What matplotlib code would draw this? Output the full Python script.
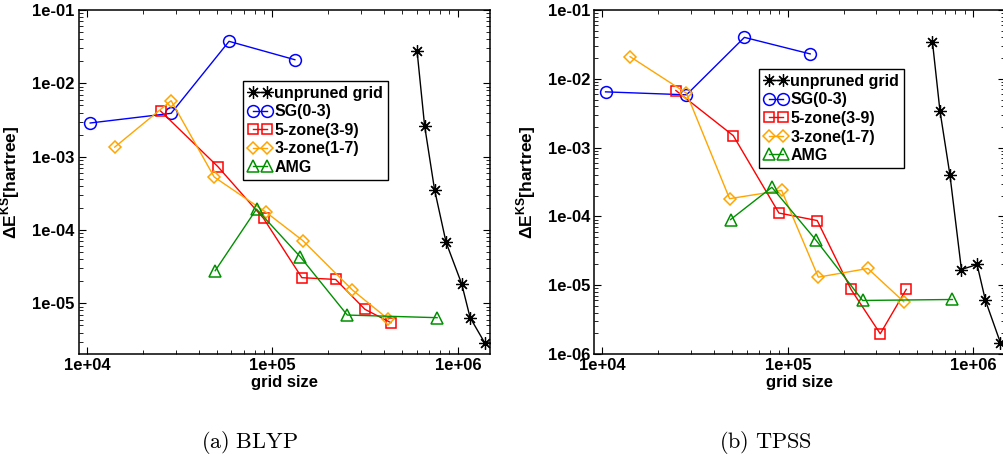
import matplotlib
matplotlib.use("Agg")
import matplotlib.pyplot as plt
from matplotlib.ticker import FuncFormatter, LogLocator

# grid sizes (shared by both functionals)
grid_unpruned = [6.02e5, 6.61e5, 7.48e5, 8.63e5, 1.048e6, 1.163e6, 1.40e6]
grid_sg = [1.04e4, 2.84e4, 5.83e4, 1.32e5]
grid_5zone = [2.49e4, 5.08e4, 8.95e4, 1.44e5, 2.19e5, 3.15e5, 4.35e5]
grid_3zone = [1.41e4, 2.84e4, 4.85e4, 9.25e4, 1.46e5, 2.70e5, 4.22e5]
grid_amg = [4.91e4, 8.2e4, 1.41e5, 2.53e5, 7.72e5]

# errors, BLYP
blyp_unpruned = [2.76e-2, 2.65e-3, 3.55e-4, 6.8e-5, 1.84e-5, 6.4e-6, 2.85e-6]
blyp_sg = [2.88e-3, 3.9e-3, 3.74e-2, 2.1e-2]
blyp_5zone = [4.2e-3, 7.3e-4, 1.44e-4, 2.24e-5, 2.12e-5, 8.3e-6, 5.45e-6]
blyp_3zone = [1.35e-3, 5.8e-3, 5.28e-4, 1.74e-4, 7.15e-5, 1.52e-5, 6.05e-6]
blyp_amg = [2.79e-5, 1.93e-4, 4.33e-5, 6.93e-6, 6.38e-6]

# errors, TPSS
tpss_unpruned = [3.47e-2, 3.43e-3, 4.03e-4, 1.69e-5, 2.0e-5, 6.0e-6, 1.46e-6]
tpss_sg = [6.46e-3, 5.85e-3, 4.0e-2, 2.3e-2]
tpss_5zone = [6.76e-3, 1.49e-3, 1.12e-4, 8.7e-5, 8.7e-6, 1.97e-6, 8.7e-6]
tpss_3zone = [2.1e-2, 6.18e-3, 1.81e-4, 2.39e-4, 1.31e-5, 1.75e-5, 5.74e-6]
tpss_amg = [9.0e-5, 2.65e-4, 4.6e-5, 6.0e-6, 6.2e-6]

labels = ["unpruned grid", "SG(0-3)", "5-zone(3-9)", "3-zone(1-7)", "AMG"]

plt.rcParams.update(
    {
        "font.family": "Liberation Sans",
        "font.weight": "bold",
        "mathtext.fontset": "custom",
        "mathtext.rm": "Liberation Sans",
        "mathtext.bf": "Liberation Sans:bold",
        "xtick.direction": "in",
        "ytick.direction": "in",
        "xtick.top": True,
        "ytick.right": True,
        "xtick.major.size": 5,
        "ytick.major.size": 5,
        "xtick.minor.size": 2.8,
        "ytick.minor.size": 2.8,
        "axes.linewidth": 1.1,
    }
)

styles = [
    dict(color="black", marker=(8, 2, 0), ms=9, mew=0.9),
    dict(color="#0000ff", marker="o", ms=8.5, mfc="none", mew=1.1),
    dict(color="#ff0000", marker="s", ms=7.5, mfc="none", mew=1.1),
    dict(color="#ffa500", marker="D", ms=6.5, mfc="none", mew=1.1),
    dict(color="#009000", marker="^", ms=8.5, mfc="none", mew=1.1),
]

fig = plt.figure(figsize=(10.04, 4.61), dpi=100)
ax_a = fig.add_axes([0.0787, 0.2321, 0.4094, 0.7462])
ax_b = fig.add_axes([0.5920, 0.2321, 0.4094, 0.7462])

panels = [
    (ax_a, [blyp_unpruned, blyp_sg, blyp_5zone, blyp_3zone, blyp_amg], (2.04e-6, 1e-1), (0.399, 0.794), "(a)\\ BLYP", 0.249),
    (ax_b, [tpss_unpruned, tpss_sg, tpss_5zone, tpss_3zone, tpss_amg], (1e-6, 1e-1), (0.401, 0.828), "(b)\\ TPSS", 0.762),
]
grids = [grid_unpruned, grid_sg, grid_5zone, grid_3zone, grid_amg]
fmt = FuncFormatter(lambda v, pos: f"{v:.0e}")

for ax, series, ylim, leg_pos, caption, cap_x in panels:
    for xs, ys, lab, st in zip(grids, series, labels, styles):
        ax.plot(xs, ys, lw=1.0, label=lab, **st)
    ax.set_xscale("log")
    ax.set_yscale("log")
    ax.set_xlim(9.05e3, 1.49e6)
    ax.set_ylim(*ylim)
    ax.xaxis.set_major_locator(LogLocator(base=10, numticks=10))
    ax.yaxis.set_major_locator(LogLocator(base=10, numticks=10))
    ax.xaxis.set_major_formatter(fmt)
    ax.yaxis.set_major_formatter(fmt)
    ax.tick_params(labelsize=12, pad=3)
    ax.set_xlabel("grid size", fontsize=12, fontweight="bold", labelpad=1)
    ax.set_ylabel(r"$\Delta\mathbf{E}^{\mathbf{KS}}$[hartree]", fontsize=12.5, fontweight="bold")
    ax.yaxis.set_label_coords(-0.138, 0.5)
    leg = ax.legend(
        loc="upper left",
        bbox_to_anchor=leg_pos,
        borderaxespad=0,
        numpoints=2,
        handlelength=1.5,
        handletextpad=0.15,
        labelspacing=0.22,
        borderpad=0.3,
        fancybox=False,
        edgecolor="black",
        framealpha=1,
        prop={"size": 11.5, "weight": "bold"},
    )
    leg.get_frame().set_linewidth(1.0)
    fig.text(
        cap_x,
        0.04,
        "$\\mathrm{" + caption + "}$",
        ha="center",
        va="center",
        fontsize=16,
        math_fontfamily="cm",
    )

fig.savefig("out.png", dpi=100)
